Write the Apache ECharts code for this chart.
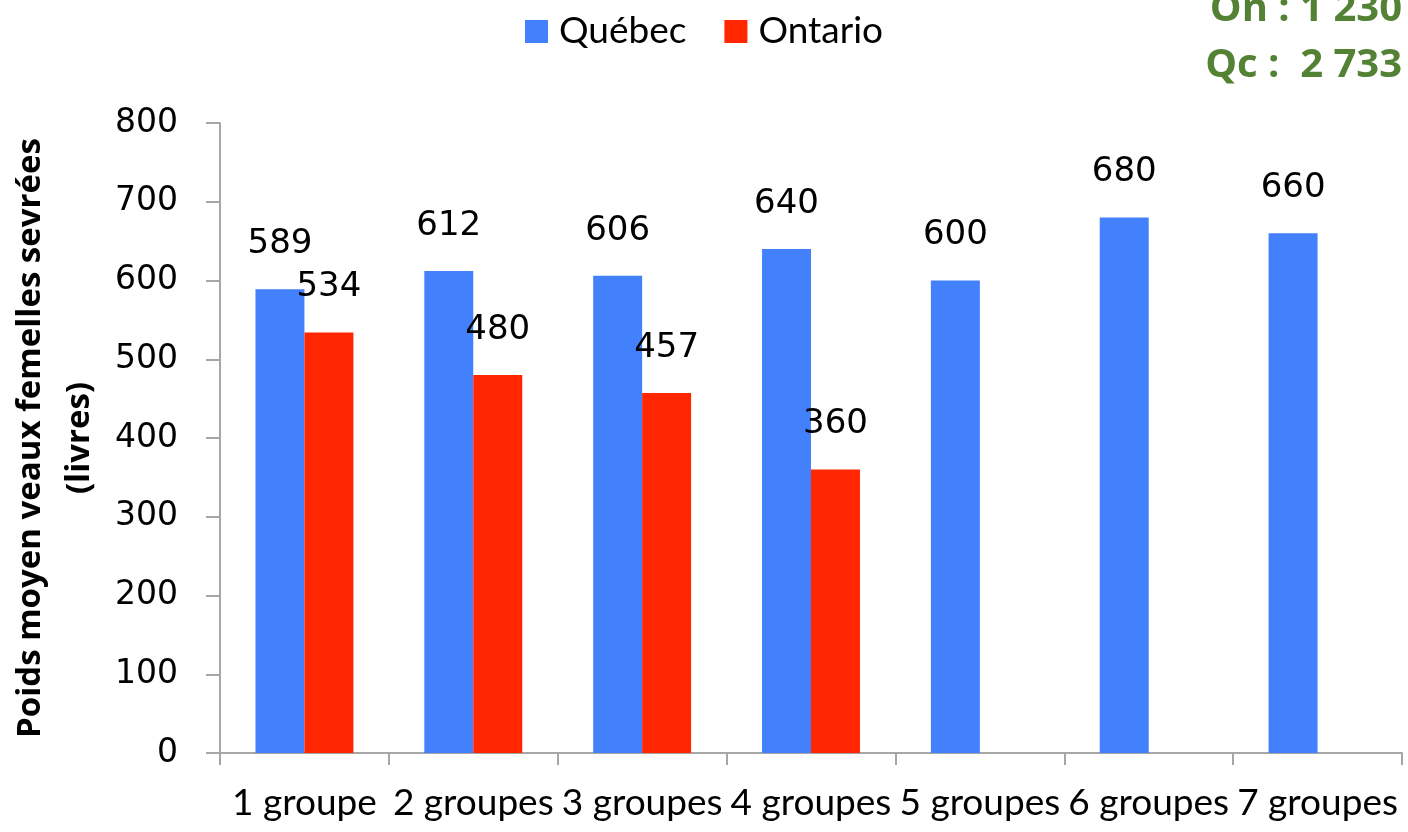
<!DOCTYPE html>
<html>

<head>
  <meta charset="UTF-8">
  <title>Poids moyen veaux femelles sevrées</title>
  <style>
    html, body { margin: 0; padding: 0; background: #fff; }
  </style>
</head>

<body>
  <div id="main" style="width: 1408px; height: 832px;"></div>
  <script src="https://cdn.jsdelivr.net/npm/echarts@6/dist/echarts.min.js"></script>
  <script>
    // Data
    const categories = ['1 groupe', '2 groupes', '3 groupes', '4 groupes', '5 groupes', '6 groupes', '7 groupes'];
    const quebec = [589, 612, 606, 640, 600, 680, 660];
    const ontario = [534, 480, 457, 360, null, null, null];
    const yTicks = [0, 100, 200, 300, 400, 500, 600, 700, 800];
    const totals = ['On : 1 230', 'Qc :  2 733'];

    const chartDom = document.getElementById('main');
    const myChart = echarts.init(chartDom);

    const labelStyle = {
      show: true,
      position: 'top',
      distance: 28,
      fontFamily: 'DejaVu Sans',
      fontSize: 34,
      color: '#000'
    };

    const option = {
      animation: false,
      legend: {
        top: 8,
        left: 'center',
        itemWidth: 23,
        itemHeight: 23,
        itemGap: 38,
        icon: 'rect',
        textStyle: { fontFamily: 'Lato', fontSize: 37, color: '#000', padding: [0, 0, 0, 6] },
        data: ['Québec', 'Ontario']
      },
      grid: { left: 220, right: 6, top: 123, bottom: 79, outerBoundsMode: 'none' },
      xAxis: {
        type: 'category',
        data: categories,
        axisLine: { lineStyle: { color: '#a6a6a6', width: 2 } },
        axisTick: { show: true, length: 12, lineStyle: { color: '#a6a6a6', width: 2 } },
        axisLabel: {
          interval: 0,
          hideOverlap: false,
          margin: 32,
          fontFamily: 'Lato',
          fontSize: 37,
          color: '#000'
        }
      },
      yAxis: {
        type: 'value',
        min: yTicks[0],
        max: yTicks[yTicks.length - 1],
        interval: 100,
        name: 'Poids moyen veaux femelles sevrées\n(livres)',
        nameLocation: 'middle',
        nameRotate: 90,
        nameGap: 114,
        nameTextStyle: {
          fontFamily: 'Open Sans',
          fontWeight: 'bold',
          fontSize: 33,
          lineHeight: 49,
          color: '#000'
        },
        axisLine: { show: true, lineStyle: { color: '#a6a6a6', width: 2 } },
        axisTick: { show: true, length: 14, lineStyle: { color: '#a6a6a6', width: 2 } },
        splitLine: { show: false },
        axisLabel: {
          margin: 42,
          fontFamily: 'DejaVu Sans',
          fontSize: 33,
          color: '#000'
        }
      },
      graphic: [
        {
          type: 'text',
          right: 6,
          top: -10,
          style: { text: totals[0], fill: '#548235', font: 'bold 40px "Open Sans"' }
        },
        {
          type: 'text',
          right: 6,
          top: 46,
          style: { text: totals[1], fill: '#548235', font: 'bold 40px "Open Sans"' }
        }
      ],
      series: [
        {
          name: 'Québec',
          type: 'bar',
          data: quebec,
          barGap: '0%',
          barCategoryGap: '42%',
          itemStyle: { color: '#4281fb' },
          label: labelStyle
        },
        {
          name: 'Ontario',
          type: 'bar',
          data: ontario,
          itemStyle: { color: '#ff2600' },
          label: labelStyle
        }
      ]
    };

    myChart.setOption(option);
  </script>
</body>

</html>
